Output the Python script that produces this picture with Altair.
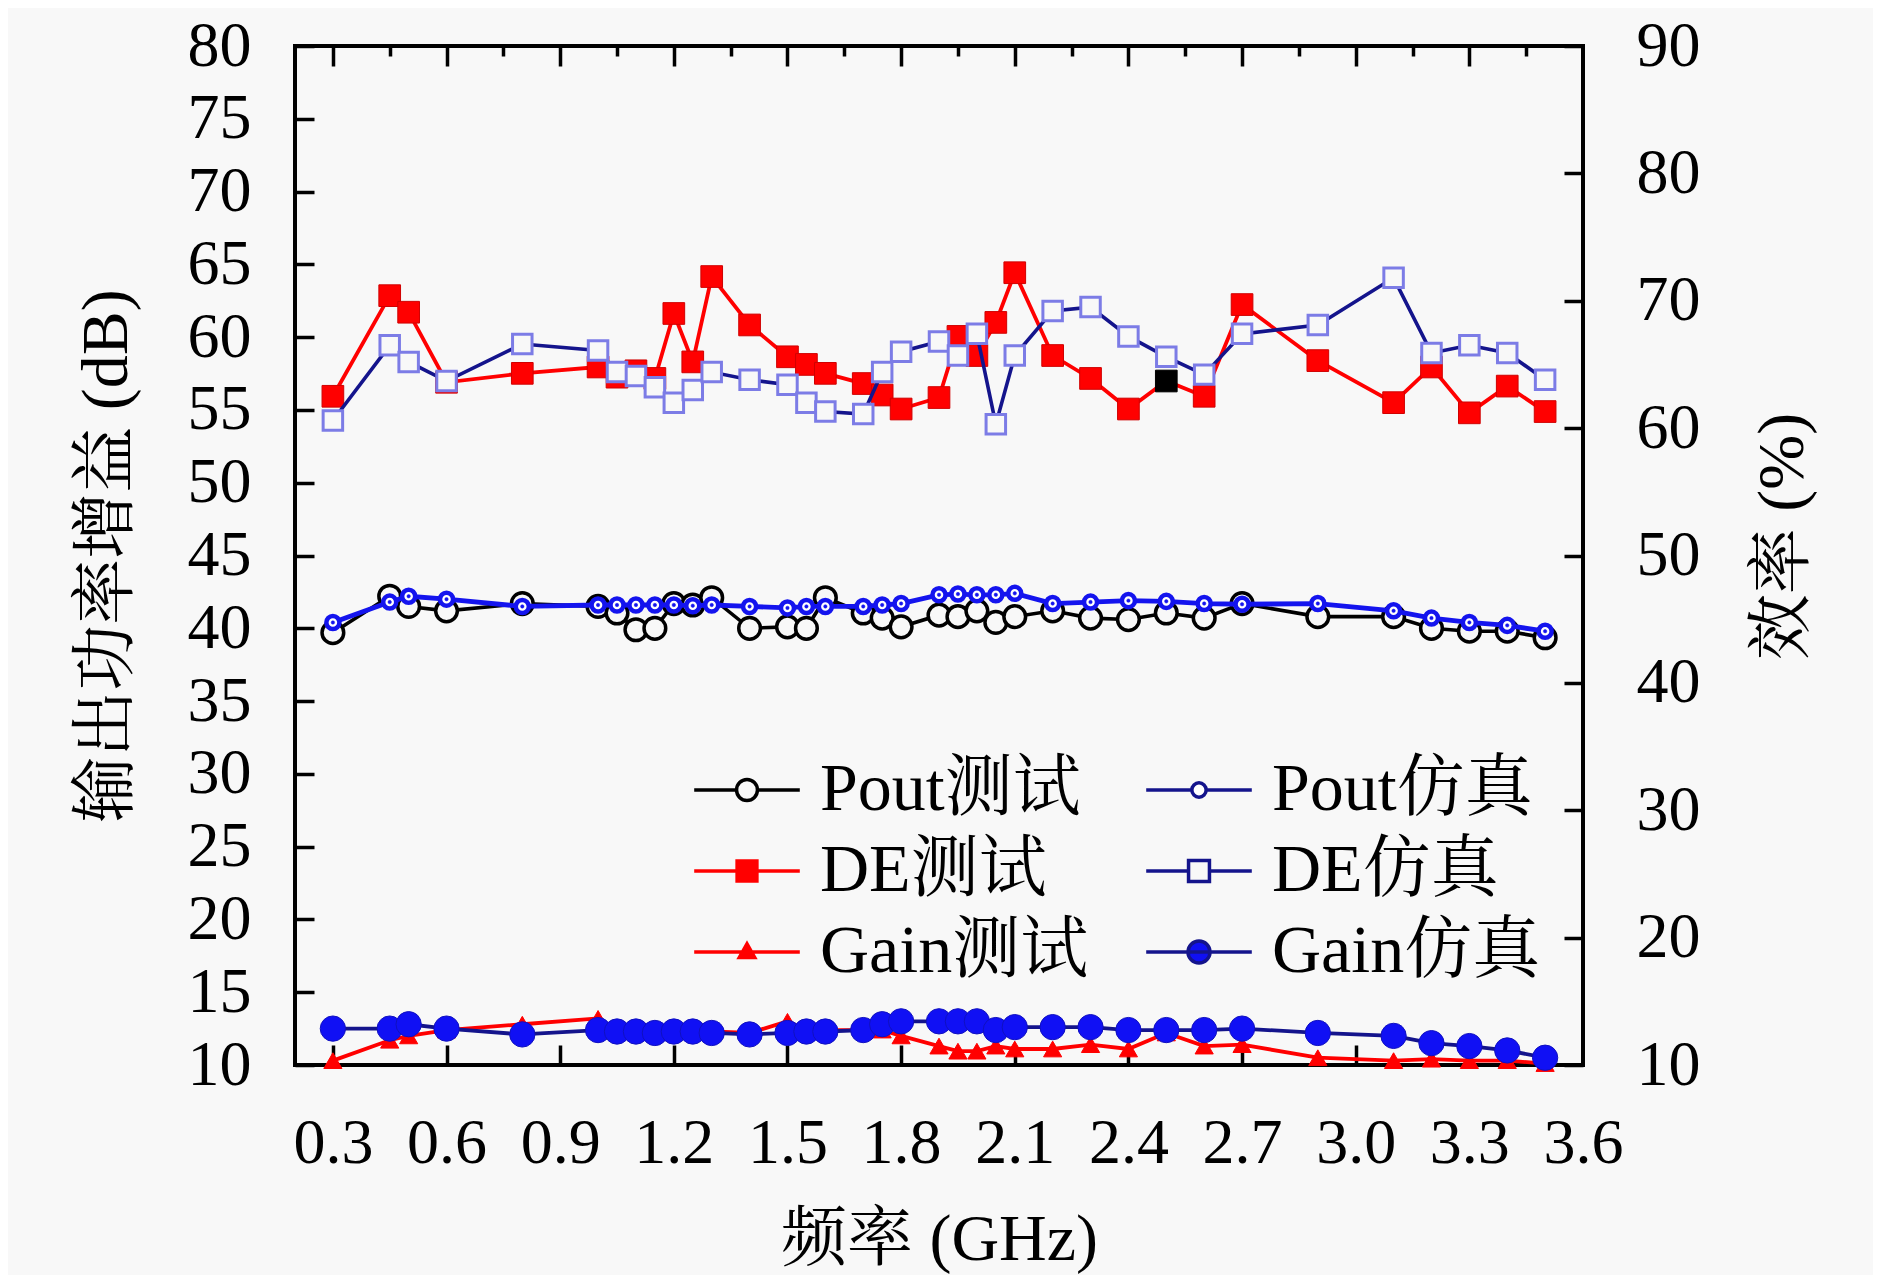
import altair as alt
import pandas as pd

# ---------------- data ----------------
FREQ = [0.3, 0.45, 0.5, 0.6, 0.8, 1.0, 1.05, 1.1, 1.15, 1.2, 1.25, 1.3, 1.4, 1.5, 1.55, 1.6,
        1.7, 1.75, 1.8, 1.9, 1.95, 2.0, 2.05, 2.1, 2.2, 2.3, 2.4, 2.5, 2.6, 2.7, 2.9, 3.1,
        3.2, 3.3, 3.4, 3.5]

POUT_TEST = [39.7, 42.2, 41.5, 41.2, 41.7, 41.5, 41.05, 39.9, 40.0, 41.7, 41.6, 42.1, 40.0, 40.1,
             40.0, 42.1, 41.05, 40.7, 40.1, 40.9, 40.8, 41.2, 40.4, 40.8, 41.2, 40.7, 40.6, 41.05,
             40.7, 41.7, 40.8, 40.8, 40.0, 39.8, 39.8, 39.35]
POUT_SIM = [40.4, 41.8, 42.2, 42.0, 41.5, 41.6, 41.6, 41.6, 41.6, 41.6, 41.55, 41.6, 41.5, 41.4,
            41.5, 41.5, 41.5, 41.6, 41.7, 42.3, 42.35, 42.3, 42.3, 42.4, 41.7, 41.8, 41.9, 41.85,
            41.7, 41.65, 41.7, 41.2, 40.7, 40.4, 40.2, 39.8]
GAIN_TEST = [10.3, 11.7, 12.0, 12.4, 12.8, 13.2, 12.4, 12.3, 12.3, 12.4, 12.3, 12.3, 12.2, 13.0,
             12.4, 12.4, 12.4, 12.4, 12.0, 11.3, 10.95, 10.95, 11.3, 11.1, 11.1, 11.4, 11.1, 12.2,
             11.3, 11.4, 10.5, 10.3, 10.4, 10.3, 10.3, 10.1]
GAIN_SIM = [12.5, 12.5, 12.8, 12.5, 12.1, 12.4, 12.3, 12.3, 12.2, 12.3, 12.3, 12.2, 12.1, 12.2,
            12.3, 12.3, 12.4, 12.8, 13.0, 13.0, 13.0, 13.0, 12.4, 12.6, 12.6, 12.6, 12.4, 12.4,
            12.4, 12.5, 12.2, 12.0, 11.5, 11.3, 11.0, 10.5]
DE_TEST = [62.5, 70.4, 69.1, 63.6, 64.3, 64.8, 64.0, 64.5, 63.9, 69.0, 65.2, 71.9, 68.1, 65.6,
           65.0, 64.3, 63.5, 62.6, 61.5, 62.4, 67.2, 65.7, 68.3, 72.2, 65.7, 63.9, 61.5, 63.7,
           62.5, 69.7, 65.3, 62.0, 64.8, 61.2, 63.3, 61.3]
DE_SIM = [60.6, 66.5, 65.2, 63.7, 66.6, 66.1, 64.4, 64.1, 63.2, 62.0, 63.0, 64.4, 63.8, 63.4,
          62.0, 61.3, 61.1, 64.4, 66.0, 66.8, 65.7, 67.4, 60.3, 65.7, 69.2, 69.5, 67.2, 65.6,
          64.2, 67.4, 68.1, 71.8, 65.9, 66.5, 65.9, 63.8]

X_LABELS = [0.3, 0.6, 0.9, 1.2, 1.5, 1.8, 2.1, 2.4, 2.7, 3.0, 3.3, 3.6]
X_MAJOR = [0.3, 0.6, 0.9, 1.2, 1.5, 1.8, 2.1, 2.4, 2.7, 3.0, 3.3]
X_MINOR = [0.45, 0.75, 1.05, 1.35, 1.65, 1.95, 2.25, 2.55, 2.85, 3.15, 3.45]
LEFT_TICKS = [10, 15, 20, 25, 30, 35, 40, 45, 50, 55, 60, 65, 70, 75, 80]
RIGHT_TICKS = [10, 20, 30, 40, 50, 60, 70, 80, 90]
# legend order: first column (测试), then second column (仿真)
SERIES = ["Pout测试", "DE测试", "Gain测试", "Pout仿真", "DE仿真", "Gain仿真"]
ODD_POINT = 2.5  # the DE test point drawn black in the reference

# ---------------- styling ----------------
FONT = "Liberation Serif, Noto Serif CJK SC, Noto Sans CJK SC"
BG = "#f8f8f8"
W, H = 1288, 1019
RED = "#ff0000"
BLUE = "#1414ee"
NAVY = "#14148c"
LIGHT = "#7c7ce6"
GBLUE = "#1010f4"

df = pd.DataFrame({
    "f": FREQ, "pout_t": POUT_TEST, "pout_s": POUT_SIM, "gain_t": GAIN_TEST,
    "gain_s": GAIN_SIM, "de_t": DE_TEST, "de_s": DE_SIM,
})

xscale = alt.Scale(domain=[0.2, 3.6], nice=False, zero=False)
lscale = alt.Scale(domain=[10, 80], nice=False, zero=False)
rscale = alt.Scale(domain=[10, 90], nice=False, zero=False)

base = alt.Chart(df)
X_NONE = alt.X("f:Q", scale=xscale, axis=None)

x_main_axis = alt.Axis(
    orient="bottom", values=X_LABELS, format=".1f", ticks=False, domain=False,
    grid=False, labelPadding=46, labelFontSize=64, labelFont=FONT, labelColor="black",
    labelFlush=False, labelOverlap=False,
    title="频率 (GHz)", titleFont=FONT, titleFontSize=66, titleFontWeight="normal",
    titleColor="black", titleX=W / 2, titleY=174, titleAlign="center", titleBaseline="middle",
)
y_left_axis = alt.Axis(
    orient="left", values=LEFT_TICKS, ticks=False, domain=False, grid=False,
    labelPadding=44, labelFontSize=64, labelFont=FONT, labelColor="black", labelFlush=False,
    labelOverlap=False,
    title="输出功率增益 (dB)", titleFont=FONT, titleFontSize=66, titleFontWeight="normal",
    titleColor="black", titleAngle=270, titleX=-189, titleY=H / 2, titleAlign="center",
    titleBaseline="middle",
)
y_right_axis = alt.Axis(
    orient="right", values=RIGHT_TICKS, ticks=False, domain=False, grid=False,
    labelPadding=53, labelFontSize=64, labelFont=FONT, labelColor="black", labelFlush=False,
    labelOverlap=False,
    title="效率 (%)", titleFont=FONT, titleFontSize=66, titleFontWeight="normal",
    titleColor="black", titleAngle=270, titleX=199, titleY=490, titleAlign="center",
    titleBaseline="middle",
)


def line(col, color, width, scale, xaxis=None, yaxis=None):
    return base.mark_line(color=color, strokeWidth=width).encode(
        x=alt.X("f:Q", scale=xscale, axis=xaxis),
        y=alt.Y(f"{col}:Q", scale=scale, axis=yaxis),
    )


def pts(col, scale, **mark):
    return base.mark_point(opacity=1, filled=True, **mark).encode(
        x=X_NONE, y=alt.Y(f"{col}:Q", scale=scale, axis=None)
    )


data_layers = [
    # measured
    line("pout_t", "black", 3.6, lscale, xaxis=x_main_axis, yaxis=y_left_axis),
    pts("pout_t", lscale, shape="circle", size=470, fill=BG, stroke="black", strokeWidth=3.5),
    line("gain_t", RED, 3.8, lscale),
    pts("gain_t", lscale, shape="triangle-up", size=330, fill=RED, stroke=RED, strokeWidth=1),
    line("de_t", RED, 3.8, rscale, yaxis=y_right_axis),
    base.mark_point(opacity=1, filled=True, shape="square", size=470, strokeWidth=1).encode(
        x=X_NONE,
        y=alt.Y("de_t:Q", scale=rscale, axis=None),
        fill=alt.condition(f"datum.f == {ODD_POINT}", alt.value("black"), alt.value(RED)),
        stroke=alt.condition(f"datum.f == {ODD_POINT}", alt.value("black"), alt.value("#d00000")),
    ),
    # simulated
    line("pout_s", BLUE, 4.8, lscale),
    pts("pout_s", lscale, shape="circle", size=170, fill="white", stroke=BLUE, strokeWidth=4.5),
    pts("pout_s", lscale, shape="circle", size=12, fill=BLUE, stroke=BLUE, strokeWidth=0.5),
    line("gain_s", NAVY, 3.8, lscale),
    pts("gain_s", lscale, shape="circle", size=640, fill=GBLUE, stroke="#1010c0", strokeWidth=1),
    line("de_s", NAVY, 3.6, rscale),
    pts("de_s", rscale, shape="square", size=380, fill=BG, stroke=LIGHT, strokeWidth=3),
]

# ---- inward ticks, drawn by extra axes pushed inside the frame ----
empty = base.transform_filter("false").mark_point()


def tick_axis_y(scale, orient, values, size):
    return empty.encode(y=alt.Y("pout_t:Q", scale=scale, axis=alt.Axis(
        orient=orient, offset=-size, tickSize=size, values=values, labels=False, domain=False,
        grid=False, title=None, tickWidth=3.5, tickColor="black")))


def tick_axis_x(orient, values, size):
    return empty.encode(x=alt.X("f:Q", scale=xscale, axis=alt.Axis(
        orient=orient, offset=-size, tickSize=size, values=values, labels=False, domain=False,
        grid=False, title=None, tickWidth=3.5, tickColor="black")))


# ---- legend (built from the series names) ----
PATHS = [
    "M-4.8,0H-0.95M0.95,0H4.8M-0.95,0A0.95,0.95,0,1,0,0.95,0A0.95,0.95,0,1,0,-0.95,0Z",
    "M-4.8,0H4.8M-0.9,-0.9H0.9V0.9H-0.9Z",
    "M-4.8,0H4.8M0,-0.75L0.7,0.5H-0.7Z",
    "M-4.8,0H-0.65M0.65,0H4.8M-0.65,0A0.65,0.65,0,1,0,0.65,0A0.65,0.65,0,1,0,-0.65,0Z",
    "M-4.8,0H-0.95M0.95,0H4.8M-0.95,-0.95H0.95V0.95H-0.95Z",
    "M-4.8,0H4.8M-1,0A1,1,0,1,0,1,0A1,1,0,1,0,-1,0Z",
]
FILLS = [BG, RED, RED, "white", BG, GBLUE]
STROKES = ["black", RED, RED, NAVY, NAVY, NAVY]

LFS = 68  # legend label font size (also the legend entry size in Vega)
LEG = alt.Legend(
    orient="none", legendX=399, legendY=710, columns=2, title=None, padding=0,
    symbolSize=484, symbolStrokeWidth=3.5, symbolOffset=53 - LFS / 2,
    labelOffset=126 - (53 - LFS / 2) - LFS,
    labelFont=FONT, labelFontSize=LFS, labelColor="black", labelLimit=500,
    rowPadding=13, columnPadding=50, symbolOpacity=1,
)
legend_layer = base.transform_filter("false").mark_point(opacity=1, filled=True).encode(
    shape=alt.Shape("s:N", scale=alt.Scale(domain=SERIES, range=PATHS), legend=LEG),
    fill=alt.Fill("s:N", scale=alt.Scale(domain=SERIES, range=FILLS), legend=LEG),
    stroke=alt.Stroke("s:N", scale=alt.Scale(domain=SERIES, range=STROKES), legend=LEG),
)

chart = alt.layer(
    *data_layers,
    tick_axis_y(lscale, "left", LEFT_TICKS, 19),
    tick_axis_y(rscale, "right", RIGHT_TICKS, 19),
    tick_axis_x("bottom", X_MAJOR, 20),
    tick_axis_x("top", X_MAJOR, 20),
    tick_axis_x("top", X_MINOR, 10),
    legend_layer,
).resolve_scale(
    y="independent"
).resolve_axis(
    x="independent", y="independent"
).properties(
    width=W, height=H,
    padding={"left": 287, "top": 38, "right": 290, "bottom": 210},
    autosize=alt.AutoSizeParams(type="none"),
    background=BG,
).configure_view(
    stroke="black", strokeWidth=4
)

chart.save("out.html", embed_options={"renderer": "svg", "actions": False})
